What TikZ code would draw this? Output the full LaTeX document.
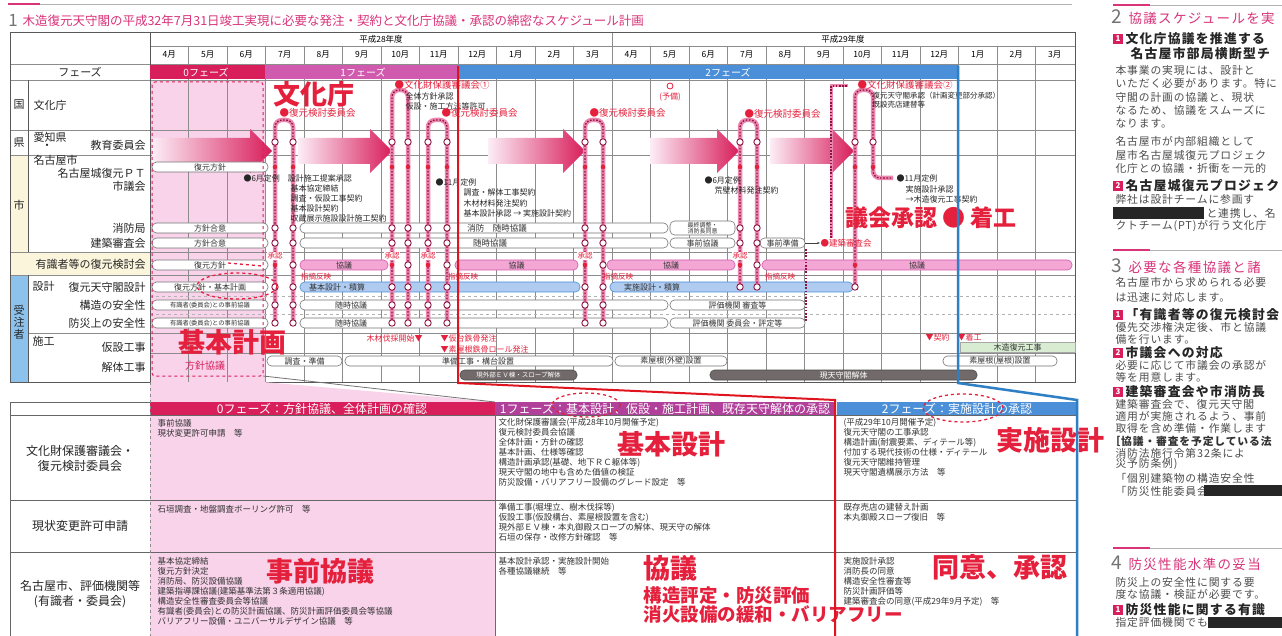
\documentclass[tikz,border=0pt]{standalone}
\usepackage{fontspec}
\setmainfont{Noto Sans CJK JP}
\newfontfamily\jpsp{Noto Sans CJK JP}[LetterSpace=10]
\newfontfamily\jpbody{Noto Sans CJK JP}[LetterSpace=8]
\usetikzlibrary{arrows.meta}
\newcommand{\fs}[1]{\fontsize{#1}{#1}\selectfont}
\definecolor{pzero}{HTML}{D81E5B}
\definecolor{pone}{HTML}{D05AAE}
\definecolor{ponedk}{HTML}{B0409A}
\definecolor{ptwo}{HTML}{4A8FD8}
\definecolor{lpink}{HTML}{F8D3EA}
\definecolor{kpink}{HTML}{F4A6D4}
\definecolor{kblue}{HTML}{AFCBF0}
\definecolor{dgray}{HTML}{726A6A}
\definecolor{lgreen}{HTML}{D8ECD2}
\definecolor{rtext}{HTML}{E5203C}
\definecolor{cream}{HTML}{FBF5DC}
\definecolor{cblue}{HTML}{8DC2EC}
\definecolor{loopc}{HTML}{EC86AE}
\definecolor{loopd}{HTML}{8E1442}
\definecolor{tpink}{HTML}{D9337A}
\definecolor{ablue}{HTML}{2F7FC4}
\definecolor{ared}{HTML}{E0141E}
\tikzset{
  lab/.style={font=\fs{11}, text=black!85},
  sm/.style={font=\fs{8}, text=black!85, anchor=west},
  tn/.style={font=\fs{6.5}, text=black!80},
  rd/.style={font=\fs{9.5}, text=rtext, anchor=west},
  rsm/.style={font=\fs{8}, text=rtext},
  bigred/.style={font=\bfseries\fs{27}, text=rtext},
  wbar/.style={draw=black!55, fill=white, rounded corners=4.5pt, minimum height=10pt, line width=0.6pt, font=\fs{8}, text=black!80},
  pbar/.style={wbar, fill=kpink, draw=pone},
  bbar/.style={wbar, fill=kblue, draw=ptwo},
  gbar/.style={wbar, fill=lgreen, draw=black!35, rounded corners=0pt},
  dbar/.style={wbar, fill=dgray, draw=black!70, text=white},
  gridl/.style={draw=black!45, line width=0.5pt},
  loopbg/.style={draw=loopc, line width=4.5pt, rounded corners=7pt},
  loopfg/.style={draw=loopd, line width=1.3pt, dash pattern=on 1.6pt off 1.6pt, rounded corners=7pt},
  ocirc/.style={draw=loopd, fill=white, line width=0.9pt},
  cell/.style={font=\fontsize{8.5}{10}\selectfont, text=black!80, align=left, anchor=north west},
  rlab/.style={font=\fontsize{12}{15}\selectfont, text=black!85, align=center},
  body/.style={font=\jpbody\fs{10.8}, text=black!70, anchor=west},
  bhead/.style={font=\jpsp\bfseries\fs{12.8}, text=black!85, anchor=west},
  shead/.style={font=\jpsp\fs{13.5}, text=tpink, anchor=west},
  badge/.style={fill=pzero, text=white, font=\bfseries\fs{8}, minimum size=10pt, inner sep=0pt},
  phtxt/.style={font=\fs{10}, text=white},
  hdtxt/.style={font=\fs{12}, text=white},
}
\newcommand{\gBar}[6]{\node[#1, minimum width={(#4)-(#3)}] (#2) at ({((#3)+(#4))/2},#5) {#6};}
\newcommand{\gLoop}[5]{\draw[loopbg] (#1,#4) -- (#1,#3) -- (#2,#3) -- (#2,#5);\draw[loopfg] (#1,#4) -- (#1,#3) -- (#2,#3) -- (#2,#5);}
\newcommand{\gOC}[2]{\draw[ocirc] (#1,#2) circle (3.2pt);}
\newcommand{\gDot}[2]{\fill[rtext] (#1,#2) circle (2.3pt);}
\newcommand{\gArw}[2]{\shade[left color=lpink!40, right color=pzero] (#1,138) -- ({#2-22},138) -- ({#2-22},129) -- (#2,151) -- ({#2-22},173) -- ({#2-22},164) -- (#1,164) -- cycle;}
\begin{document}
\begin{tikzpicture}[x=1pt,y=-1pt, every node/.append style={inner sep=0.5pt, outer sep=0pt}]
\useasboundingbox (0,0) rectangle (1282,636);
\fill[white] (0,0) rectangle (1282,636);

% ---------- title ----------
\draw[tpink, line width=1.5pt] (8,4) -- (40,4);
\draw[black!30, line width=0.6pt] (40,4) -- (1072,4);
\node[anchor=west, text=black!55, font=\fs{17}] (tnum) at (8,20) {1};
\node[anchor=west, text=tpink, font=\fs{12.5}] (title) at (22,21) {木造復元天守閣の平成32年7月31日竣工実現に必要な発注・契約と文化庁協議・承認の綿密なスケジュール計画};

% ---------- gantt fills ----------
\fill[cream] (10,155) rectangle (28,252);
\fill[cream] (10,252) rectangle (150,275);
\fill[cblue] (10,275) rectangle (28,382);
\fill[lpink] (150,80) rectangle (265,382);

% grid
\foreach \i in {1,...,23} {\draw[gridl] ({150+38.5*\i},46) -- ({150+38.5*\i},382);}
\draw[gridl] (612,32) -- (612,46);
\draw[gridl] (150,46) -- (1075,46);
\foreach \yy in {64,80,130,155,252,275} {\draw[gridl] (10,\yy) -- (1075,\yy);}
\draw[gridl] (28,333) -- (1075,333);
\draw[gridl] (150,353) -- (1075,353);
\draw[gridl, dashed, draw=black!30] (150,296) -- (1075,296);
\draw[gridl, dashed, draw=black!30] (150,314) -- (1075,314);
\draw[black!65, line width=0.7pt] (10,32) rectangle (1075,382);
\draw[black!65, line width=0.7pt] (150,32) -- (150,382);
\draw[black!65, line width=0.6pt] (28,80) -- (28,252);
\draw[black!65, line width=0.6pt] (28,275) -- (28,382);

% header
\node[font=\fs{8.5}] (y28) at (381,39) {平成28年度};
\node[font=\fs{8.5}] (y29) at (843,39) {平成29年度};
\foreach \m [count=\i from 0] in {4月,5月,6月,7月,8月,9月,10月,11月,12月,1月,2月,3月,4月,5月,6月,7月,8月,9月,10月,11月,12月,1月,2月,3月}
  {\node[font=\fs{8.5}] (mon\i) at ({150+38.5*\i+19.25},55) {\m};}

% phase bars
\fill[pzero] (150,65) rectangle (265,79);
\fill[pone] (265,65) rectangle (458,79);
\fill[ptwo] (458,65) rectangle (958,79);
\node[phtxt] (ph0) at (206,72) {0フェーズ};
\node[phtxt] (ph1) at (363,72) {1フェーズ};
\node[phtxt] (ph2) at (728,72) {2フェーズ};

% left labels
\node[lab] (lphase) at (80,72) {フェーズ};
\node[lab] (lkuni) at (19,105) {国};
\node[lab, anchor=west] (lbunka) at (33,105) {文化庁};
\node[lab] (lken) at (19,143) {県};
\node[lab, anchor=west] (laichi) at (33,137) {愛知県};
\node[lab] (ldot) at (47,147) {・};
\node[lab, anchor=east] (lkyoiku) at (146,145) {教育委員会};
\node[lab] (lshi) at (19,205) {市};
\node[lab, anchor=west] (lnagoya) at (33,160) {名古屋市};
\node[lab, anchor=east] (lpt) at (146,173) {名古屋城復元ＰＴ};
\node[lab, anchor=east] (lgikai) at (146,186) {市議会};
\node[lab, anchor=east] (lshobo) at (146,228) {消防局};
\node[lab, anchor=east] (lkenchiku) at (146,243) {建築審査会};
\node[lab, anchor=east] (lyushiki) at (146,264) {有識者等の復元検討会};
\node[lab, align=center, font=\fontsize{11}{12}\selectfont] (ljuchu) at (19,322) {受\\注\\者};
\node[lab, anchor=west] (lsekkei) at (32,286) {設計};
\node[lab, anchor=east] (lfukugen) at (146,287) {復元天守閣設計};
\node[lab, anchor=east] (lkozo) at (146,305) {構造の安全性};
\node[lab, anchor=east] (lbosai) at (146,323) {防災上の安全性};
\node[lab, anchor=west] (lseko) at (32,341) {施工};
\node[lab, anchor=east] (lkasetsu) at (146,347) {仮設工事};
\node[lab, anchor=east] (lkaitai) at (146,367) {解体工事};

% arrows 県 row
\gArw{152}{272}
\gArw{298}{392}
\gArw{488}{585}
\gArw{650}{739}
\gArw{770}{854}

% 0-phase bars
\gBar{wbar}{b0a}{152}{268}{167}{復元方針}
\gBar{wbar}{b0b}{152}{268}{228}{方針合意}
\gBar{wbar}{b0c}{152}{268}{243}{方針合意}
\gBar{wbar}{b0d}{152}{268}{265}{復元方針}
\gBar{wbar}{b0e}{152}{268}{287}{復元方針・基本計画}
\gBar{wbar, font=\fs{6.3}}{b0f}{152}{268}{305}{有識者(委員会)との事前協議}
\gBar{wbar, font=\fs{6.3}}{b0g}{152}{268}{323}{有識者(委員会)との事前協議}

% other bars
\gBar{wbar}{bsh1}{300}{668}{228}{}
\node[font=\fs{8.5}, text=black!80] (tsh1) at (497,228) {消防　随時協議};
\gBar{wbar, font=\fs{6}, align=center, minimum height=14pt}{bsh2}{670}{735}{228}{最終調整・\\消防長同意}
\gBar{wbar}{bke1}{300}{668}{243}{}
\node[font=\fs{8.5}, text=black!80] (tke1) at (490,243) {随時協議};
\gBar{wbar}{bke2}{670}{735}{243}{事前協議}
\gBar{wbar}{bke3}{760}{805}{243}{事前準備}
\gBar{pbar}{bk1}{300}{388}{265}{協議}
\gBar{pbar}{bk2}{455}{578}{265}{協議}
\gBar{pbar}{bk3}{607}{735}{265}{協議}
\gBar{pbar}{bk4}{762}{1072}{265}{協議}
\gBar{bbar}{bs1}{300}{580}{287}{}
\node[font=\fs{8}, text=black!80] (ts1) at (337,287) {基本設計・積算};
\gBar{bbar}{bs2}{610}{853}{287}{}
\node[font=\fs{8}, text=black!80] (ts2) at (652,287) {実施設計・積算};
\gBar{wbar}{bz1}{300}{668}{305}{}
\node[font=\fs{8}, text=black!80] (tz1) at (351,305) {随時協議};
\gBar{wbar}{bz2}{670}{805}{305}{評価機関 審査等}
\gBar{wbar}{bb1}{300}{668}{323}{}
\node[font=\fs{8}, text=black!80] (tb1) at (351,323) {随時協議};
\gBar{wbar}{bb2}{670}{805}{323}{評価機関 委員会・評定等}
\gBar{gbar}{bmoku}{960}{1075}{347}{木造復元工事}
\gBar{wbar}{bc1}{267}{342}{361}{調査・準備}
\gBar{wbar}{bc2}{345}{613}{361}{}
\node[font=\fs{8}, text=black!80] (tc2) at (478,361) {準備工事・構台設置};
\gBar{wbar}{bc3}{615}{727}{361}{素屋根(外壁)設置}
\gBar{wbar}{bc4}{943}{1057}{361}{素屋根(屋根)設置}
\gBar{dbar, font=\fs{6.5}}{bd1}{460}{577}{375}{現外部ＥＶ棟・スロープ解体}
\gBar{dbar}{bd2}{710}{977}{375}{現天守閣解体}

% loops
\gLoop{275}{293}{120}{323}{323}
\gLoop{392}{408}{90}{323}{323}
\gLoop{428}{447}{120}{323}{323}
\gLoop{585}{603}{120}{323}{323}
\gLoop{740}{757}{120}{287}{287}
\draw[loopbg] (855,287) -- (855,90) -- (873,90) -- (873,178) -- (893,178);
\draw[loopfg] (855,287) -- (855,90) -- (873,90) -- (873,178) -- (893,178);
\draw[loopbg, rounded corners=0pt, line width=3pt] (831,238) -- (831,86) -- (848,86);
\draw[loopfg, rounded corners=0pt] (831,238) -- (831,86) -- (848,86);
\draw[loopfg, rounded corners=0pt] (806,249) -- (806,322);

% circles
\foreach \xx in {275,293,392,408,428,447,585,603} {\foreach \yy in {142,228,243,287,305,323} {\gOC{\xx}{\yy}} \gDot{\xx}{167}}
\foreach \xx in {275,392,428,585} {\gDot{\xx}{265}}
\foreach \xx in {293,408,447,603} {\gOC{\xx}{265}}
\foreach \xx in {740,757} {\foreach \yy in {142,228,243,287} {\gOC{\xx}{\yy}} \gDot{\xx}{167}}
\gDot{740}{265} \gOC{757}{265}
\gOC{855}{142} \gOC{873}{142} \gDot{855}{167} \gDot{873}{167} \gDot{855}{265} \gOC{855}{287}

% loop labels
\node[rd] (kk1) at (279,113) {●復元検討委員会};
\node[rd] (bh1) at (394,85) {●文化財保護審議会①};
\node[sm] (bh1a) at (405,96) {全体方針承認};
\node[sm] (bh1b) at (405,106) {仮設・施工方法等許可};
\node[rd] (kk2) at (441,113) {●復元検討委員会};
\node[rd] (kk3) at (589,113) {●復元検討委員会};
\draw[rtext, line width=0.8pt] (670,86) circle (3pt);
\node[rsm] (yobi) at (670,97) {(予備)};
\node[rd] (kk4) at (744,114) {●復元検討委員会};
\node[rd] (bh2) at (857,85) {●文化財保護審議会②};
\node[sm, font=\fs{7.5}] (bh2a) at (872,96) {復元天守閣承認（計画変更部分承認）};
\node[sm, font=\fs{7.5}] (bh2b) at (872,105) {既設売店建替等};
\foreach \xx/\nm in {275/s1,392/s2,428/s3,585/s4,740/s5} {\node[rsm, font=\fs{7.5}, fill=white, inner sep=0.3pt] (sh\nm) at (\xx,256) {承認};}
\node[rsm, font=\fs{7.5}] (sr1) at (316,277) {指摘反映};
\node[rsm, font=\fs{7.5}] (sr2) at (463,277) {指摘反映};
\node[rsm, font=\fs{7.5}] (sr3) at (618,277) {指摘反映};
\node[rsm, font=\fs{7.5}] (sr4) at (780,277) {指摘反映};

% city council texts
\node[sm] (t6a) at (243,178) {●6月定例　設計施工提案承認};
\node[sm] (t6b) at (290,188) {基本協定締結};
\node[sm] (t6c) at (290,198) {調査・仮設工事契約};
\node[sm] (t6d) at (290,208) {基本設計契約};
\node[sm] (t6e) at (290,218) {収蔵展示施設設計施工契約};
\node[sm] (t11a) at (435,182) {●11月定例};
\node[sm] (t11b) at (463,192) {調査・解体工事契約};
\node[sm] (t11c) at (463,203) {木材材料発注契約};
\node[sm] (t11d) at (463,213) {基本設計承認 → 実施設計契約};
\node[sm] (u6a) at (704,180) {●6月定例};
\node[sm] (u6b) at (714,190) {荒壁材料発注契約};
\node[sm] (u11a) at (896,178) {●11月定例};
\node[sm] (u11b) at (905,189) {実施設計承認};
\node[sm] (u11c) at (905,199) {→木造復元工事契約};
\node[rd, font=\fs{8.5}] (kshin) at (820,243) {●建築審査会};
\draw[-{Stealth[length=3pt]}, black!75, line width=0.7pt] (bke3.east) -- (kshin.west);

% construction annotations
\node[rsm, anchor=east] (mok) at (423,338) {木材伐採開始▼};
\node[rsm, anchor=west] (kdai) at (440,338) {▼仮台鉄骨発注};
\node[rsm, anchor=west] (sya) at (440,349) {▼素屋根鉄骨ロール発注};
\node[rsm, anchor=west] (keiy) at (925,337) {▼契約　▼着工};

% 0-phase box
\draw[pzero, dashed, line width=1pt, rounded corners=3pt] (152,82) rectangle (263,376);
\node[font=\fs{10}, text=pzero] (hoshin) at (205,366) {方針協議};
\draw[rtext, dashed, line width=1.3pt] (237,286) ellipse (40pt and 13pt);
\draw[rtext, dashed, line width=1.3pt] (228,263) -- (262,266);

% big red texts (gantt)
\node[bigred] (bunkacho) at (314,94) {文化庁};
\node[bigred] (kihonkei) at (232,342) {基本計画};
\node[bigred, font=\bfseries\fs{23}] (gikai) at (931,218) {議会承認 ● 着工};

% ---------- lower table ----------
\fill[lpink] (150,382) -- (263,382) -- (495,402) -- (150,402) -- cycle;
\fill[lpink] (150,415) rectangle (495,636);
\fill[pzero] (150,402) rectangle (495,415);
\fill[ponedk] (495,402) rectangle (835,415);
\fill[ptwo] (837,402) rectangle (1077,415);
\draw[black!60, line width=0.6pt] (10,402) -- (150,402);
\foreach \yy in {415,500,552} {\draw[black!60, line width=0.6pt] (10,\yy) -- (1077,\yy);}
\draw[black!60, line width=0.6pt] (10,402) -- (10,636);
\draw[black!45, dashed, line width=0.6pt] (150,382) -- (150,636);
\draw[ponedk, line width=0.6pt] (495,415) -- (495,636);
\draw[black!55, line width=0.8pt] (263,376) -- (495,402);

\node[hdtxt] (hd0) at (322,409) {0フェーズ：方針協議、全体計画の確認};
\node[hdtxt] (hd1) at (665,409) {1フェーズ：基本設計、仮設・施工計画、既存天守解体の承認};
\node[hdtxt] (hd2) at (957,409) {2フェーズ：実施設計の承認};

\node[rlab] (r1) at (80,458) {文化財保護審議会・\\復元検討委員会};
\node[rlab] (r2) at (80,526) {現状変更許可申請};
\node[rlab] (r3) at (80,594) {名古屋市、評価機関等\\(有識者・委員会)};

\node[cell] (c01) at (157,419) {事前協議\\現状変更許可申請　等};
\node[cell] (c02) at (157,505) {石垣調査・地盤調査ボーリング許可　等};
\node[cell] (c03) at (157,557) {基本協定締結\\復元方針決定\\消防局、防災設備協議\\建築指導課協議(建築基準法第３条適用協議)\\構造安全性審査委員会等協議\\有識者(委員会)との防災計画協議、防災計画評価委員会等協議\\バリアフリー設備・ユニバーサルデザイン協議　等};
\node[cell] (c11) at (498,418) {文化財保護審議会(平成28年10月開催予定)\\復元検討委員会協議\\全体計画・方針の確認\\基本計画、仕様等確認\\構造計画承認(基礎、地下ＲＣ躯体等)\\現天守閣の地中も含めた価値の検証\\防災設備・バリアフリー設備のグレード設定　等};
\node[cell] (c12) at (498,503) {準備工事(堀埋立、樹木伐採等)\\仮設工事(仮設構台、素屋根設置を含む)\\現外部ＥＶ棟・本丸御殿スロープの解体、現天守の解体\\石垣の保存・改修方針確認　等};
\node[cell] (c13) at (498,557) {基本設計承認・実施設計開始\\各種協議継続　等};
\node[cell] (c21) at (843,418) {(平成29年10月開催予定)\\復元天守閣の工事承認\\構造計画(耐震要素、ディテール等)\\付加する現代技術の仕様・ディテール\\復元天守閣維持管理\\現天守閣遺構展示方法　等};
\node[cell] (c22) at (843,503) {既存売店の建替え計画\\本丸御殿スロープ復旧　等};
\node[cell] (c23) at (843,557) {実施設計承認\\消防長の同意\\構造安全性審査等\\防災計画評価等\\建築審査会の同意(平成29年9月予定)　等};

\draw[rtext, dashed, line width=1.3pt] (586,405) ellipse (34pt and 12pt);
\draw[rtext, dashed, line width=1.3pt] (963,408) ellipse (40pt and 14pt);

\node[bigred] (kihonsek) at (671,444) {基本設計};
\node[bigred] (jisshi) at (1050,440) {実施設計};
\node[bigred] (jizen) at (320,571) {事前協議};
\node[bigred] (kyogi) at (670,568) {協議};
\node[bigred, font=\bfseries\fs{18.5}, anchor=west] (kozo) at (643,596) {構造評定・防災評価};
\node[bigred, font=\bfseries\fs{18.5}, anchor=west] (shoka) at (643,615) {消火設備の緩和・バリアフリー};
\node[bigred] (doi) at (1000,567) {同意、承認};

% phase connector lines
\draw[ared, line width=2pt] (458,66) -- (458,383) -- (835,400) -- (835,636);
\draw[ablue, line width=2.5pt] (958,66) -- (958,383) -- (1077,400) -- (1077,636);

% ---------- right column ----------
\draw[tpink, line width=1.5pt] (1113,5) -- (1150,5);
\draw[black!30, line width=0.6pt] (1150,5) -- (1282,5);
\node[anchor=west, text=black!55, font=\fs{19}] (h2n) at (1111,17) {2};
\node[shead] (h2t) at (1128,18) {協議スケジュールを実};
\node[badge] (b21) at (1118,39) {1};
\node[bhead] (b21t) at (1125,39) {文化庁協議を推進する};
\node[bhead] (b21u) at (1130,54) {名古屋市部局横断型チ};
\node[body] (p1) at (1115,70) {本事業の実現には、設計と};
\node[body] (p2) at (1115,83) {いただく必要があります。特に};
\node[body] (p3) at (1115,97) {守閣の計画の協議と、現状};
\node[body] (p4) at (1115,110) {なるため、協議をスムーズに};
\node[body] (p5) at (1115,124) {なります。};
\node[body] (p6) at (1115,141) {名古屋市が内部組織として};
\node[body] (p7) at (1115,155) {屋市名古屋城復元プロジェク};
\node[body] (p8) at (1115,168) {化庁との協議・折衝を一元的};
\node[badge] (b22) at (1118,186) {2};
\node[bhead] (b22t) at (1125,186) {名古屋城復元プロジェク};
\node[body] (p9) at (1115,199) {弊社は設計チームに参画す};
\fill[black!85] (1113,207) rectangle (1204,219);
\node[body] (p10) at (1206,213) {と連携し、名};
\node[body] (p11) at (1115,226) {クトチーム(PT)が行う文化庁};
\draw[tpink, line width=1.5pt] (1113,250) -- (1150,250);
\draw[black!30, line width=0.6pt] (1150,250) -- (1282,250);
\node[anchor=west, text=black!55, font=\fs{19}] (h3n) at (1111,266) {3};
\node[shead] (h3t) at (1128,267) {必要な各種協議と諸};
\node[body] (q1) at (1115,282) {名古屋市から求められる必要};
\node[body] (q2) at (1115,297) {は迅速に対応します。};
\node[badge] (b31) at (1118,315) {1};
\node[bhead] (b31t) at (1125,315) {「有識者等の復元検討会};
\node[body] (q3) at (1115,327) {優先交渉権決定後、市と協議};
\node[body] (q4) at (1115,339) {備を行います。};
\node[badge] (b32) at (1118,353) {2};
\node[bhead] (b32t) at (1125,353) {市議会への対応};
\node[body] (q5) at (1115,365) {必要に応じて市議会の承認が};
\node[body] (q6) at (1115,377) {等を用意します。};
\node[badge] (b33) at (1118,392) {3};
\node[bhead] (b33t) at (1125,392) {建築審査会や市消防長};
\node[body] (q7) at (1115,404) {建築審査会で、復元天守閣};
\node[body] (q8) at (1115,416) {適用が実施されるよう、事前};
\node[body] (q9) at (1115,428) {取得を含め準備・作業します};
\node[body, font=\jpbody\bfseries\fs{10.8}, text=black!80] (q10) at (1109,441) {［協議・審査を予定している法};
\node[body] (q11) at (1115,453) {消防法施行令第32条によ};
\node[body] (q12) at (1115,464) {災予防条例)};
\node[body] (q13) at (1115,478) {「個別建築物の構造安全性};
\node[body] (q14) at (1115,491) {「防災性能委員会」};
\fill[black!85] (1204,485) rectangle (1282,496);
\draw[tpink, line width=1.5pt] (1113,548) -- (1150,548);
\draw[black!30, line width=0.6pt] (1150,548) -- (1282,548);
\node[anchor=west, text=black!55, font=\fs{19}] (h4n) at (1111,563) {4};
\node[shead] (h4t) at (1128,564) {防災性能水準の妥当};
\node[body] (q15) at (1115,582) {防災上の安全性に関する要};
\node[body] (q16) at (1115,594) {度な協議・検証が必要です。};
\node[badge] (b41) at (1118,610) {1};
\node[bhead] (b41t) at (1125,610) {防災性能に関する有識};
\node[body] (q17) at (1115,622) {指定評価機関でもある};
\fill[black!85] (1208,617) rectangle (1282,628);
\end{tikzpicture}
\end{document}
